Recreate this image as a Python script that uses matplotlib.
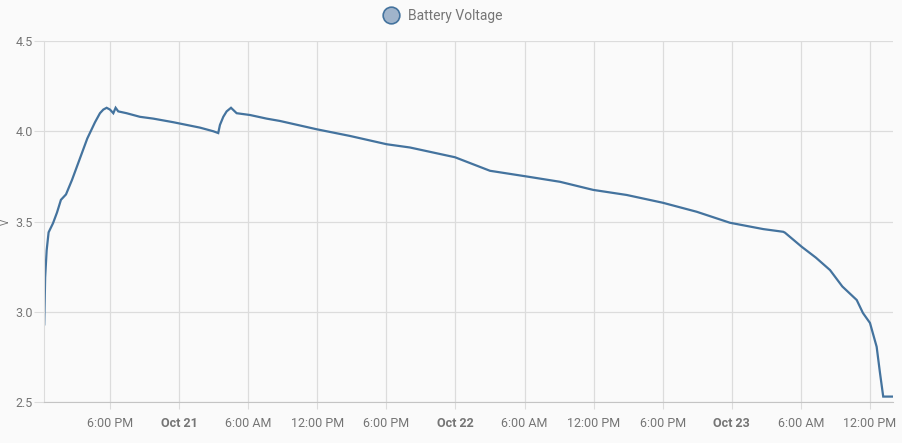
import pandas as pd
import matplotlib.pyplot as plt
from matplotlib.lines import Line2D

plt.rcParams['font.family'] = ['Roboto', 'DejaVu Sans']

# hours after Oct 20 00:00 and the battery voltage read there
hours = [12.29, 12.37, 12.50, 12.67, 13.05, 13.40, 13.74, 14.18, 14.70, 16.03,
         16.70, 17.13, 17.42, 17.71, 18.00, 18.29, 18.49, 18.72, 19.44, 20.60,
         21.76, 23.50, 24.66, 25.82, 26.97, 27.40, 27.55, 27.84, 28.13, 28.51,
         29.00, 30.16, 31.60, 32.76, 35.95, 38.84, 42.03, 44.05, 47.96, 51.00,
         54.33, 57.08, 59.97, 62.87, 66.00, 68.95, 71.84, 74.73, 76.47, 76.62,
         78.07, 79.30, 80.53, 81.60, 82.85, 83.39, 84.00, 84.58, 84.87, 85.15,
         86.00]
volts = [2.93, 3.19, 3.34, 3.44, 3.49, 3.55, 3.62, 3.65, 3.73, 3.96,
         4.05, 4.10, 4.12, 4.13, 4.12, 4.10, 4.13, 4.11, 4.10, 4.08,
         4.07, 4.05, 4.035, 4.02, 4.00, 3.99, 4.035, 4.08, 4.11, 4.13,
         4.10, 4.09, 4.07, 4.057, 4.011, 3.974, 3.928, 3.91, 3.856, 3.781,
         3.748, 3.72, 3.675, 3.647, 3.604, 3.554, 3.493, 3.458, 3.443, 3.438,
         3.36, 3.30, 3.231, 3.14, 3.065, 2.993, 2.938, 2.806, 2.661, 2.53,
         2.53]

tick_hours = [18, 24, 30, 36, 42, 48, 54, 60, 66, 72, 78, 84]
tick_labels = ['6:00 PM', 'Oct 21', '6:00 AM', '12:00 PM', '6:00 PM', 'Oct 22',
               '6:00 AM', '12:00 PM', '6:00 PM', 'Oct 23', '6:00 AM', '12:00 PM']
yticks = [2.5, 3.0, 3.5, 4.0, 4.5]

base = pd.Timestamp('2021-10-20')
times = base + pd.to_timedelta(hours, unit='h')
tick_times = base + pd.to_timedelta(tick_hours, unit='h')

line_color = '#44739e'
grid_color = '#dcdcdc'
text_color = '#757575'

fig = plt.figure(figsize=(9.03, 4.43), dpi=100, facecolor='#fafafa')
ax = fig.add_axes([44 / 903, 41 / 443, 849 / 903, 361 / 443])
ax.set_facecolor('#fafafa')

ax.plot(times, volts, color=line_color, lw=1.6, solid_joinstyle='miter')

ax.set_ylim(2.5, 4.5)
ax.set_xlim(base + pd.Timedelta(hours=12.27), base + pd.Timedelta(hours=86.0))
ax.set_yticks(yticks)
ax.set_yticklabels(['%.1f' % v for v in yticks])
ax.set_xticks(tick_times)
ax.set_xticklabels(tick_labels)
for lab in ax.get_xticklabels():
    if lab.get_text().startswith('Oct'):
        lab.set_fontweight('bold')
        lab.set_color('#616161')

ax.grid(True, color=grid_color, lw=0.9)
ax.set_axisbelow(True)
for s in ['top', 'right']:
    ax.spines[s].set_visible(False)
ax.spines['left'].set_color(grid_color)
ax.spines['bottom'].set_color('#c4c4c4')
ax.tick_params(axis='y', length=7, color=grid_color, labelcolor=text_color,
               labelsize=9, pad=1)
ax.tick_params(axis='x', length=5, color=grid_color, labelcolor=text_color,
               labelsize=9, pad=6)
ax.set_ylabel('V', color=text_color, fontsize=7)
ax.yaxis.set_label_coords(-33 / 849, 0.5)

handle = Line2D([], [], marker='o', ls='none', markersize=12,
                markerfacecolor='#a0b4cb', markeredgecolor=line_color,
                markeredgewidth=1.2)
fig.legend([handle], ['Battery Voltage'], loc='center',
           bbox_to_anchor=(440 / 903, 1 - 16 / 443), frameon=False,
           fontsize=10, labelcolor=text_color, handletextpad=0.2)

fig.savefig('out.png', dpi=100, facecolor=fig.get_facecolor())
